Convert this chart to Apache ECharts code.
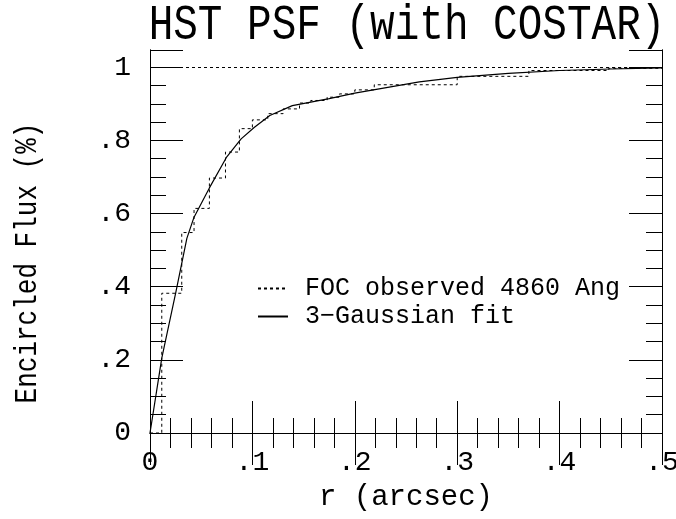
<!DOCTYPE html>
<html lang="en">
<head>
    <meta charset="UTF-8">
    <title>HST PSF (with COSTAR)</title>
    <script src="https://cdn.jsdelivr.net/npm/echarts@6/dist/echarts.min.js"></script>
    <style>
        body { margin: 0; padding: 0; background: #fff; }
        #chart { width: 676px; height: 519px; }
    </style>
</head>
<body>
    <div id="chart"></div>
    <script>
        // observed encircled flux (step function), r in arcsec
        var obsR = [0, 0.0115, 0.031, 0.043, 0.058, 0.0737, 0.0873, 0.1, 0.115, 0.13, 0.146, 0.157, 0.173, 0.185, 0.2, 0.219, 0.3, 0.37, 0.448, 0.5];
        var obsFlux = [0, 0.382, 0.548, 0.614, 0.697, 0.768, 0.832, 0.856, 0.873, 0.886, 0.902, 0.909, 0.918, 0.927, 0.938, 0.952, 0.975, 0.991, 0.997, 0.997];

        // 3-gaussian fit curve
        var fitR = [0, 0.0115, 0.025, 0.036, 0.043, 0.058, 0.075, 0.089, 0.102, 0.117, 0.139, 0.175, 0.2, 0.263, 0.3, 0.35, 0.4, 0.45, 0.5];
        var fitFlux = [0, 0.2045, 0.382, 0.532, 0.59, 0.67, 0.755, 0.804, 0.836, 0.868, 0.895, 0.914, 0.929, 0.960, 0.972, 0.983, 0.991, 0.995, 0.998];

        var xTicks = [0, 0.1, 0.2, 0.3, 0.4, 0.5];
        var xTickLabels = ['0', '.1', '.2', '.3', '.4', '.5'];
        var yTicks = [0, 0.2, 0.4, 0.6, 0.8, 1];
        var yTickLabels = ['0', '.2', '.4', '.6', '.8', '1'];

        var seriesNames = ['FOC observed 4860 Ang', '3\u2212Gaussian fit'];

        var FONT = '"Liberation Mono", monospace';
        var YMAX = 1.047;

        function lookup(ticks, labels) {
            return function (v) {
                for (var i = 0; i < ticks.length; i++) {
                    if (Math.abs(ticks[i] - v) < 1e-6) return labels[i];
                }
                return '';
            };
        }

        function zip(a, b) {
            return a.map(function (v, i) { return [v, b[i]]; });
        }

        var line = { color: '#000', width: 1 };

        function xAx(pos, labels) {
            return {
                type: 'value', min: 0, max: 0.5, interval: 0.1, position: pos,
                axisLine: { show: true, lineStyle: line },
                axisTick: { show: true, inside: true, length: 32, lineStyle: line },
                minorTick: { show: true, splitNumber: 5, length: 15, lineStyle: line },
                splitLine: { show: false },
                axisLabel: {
                    show: labels, margin: 16, color: '#000', fontFamily: FONT, fontSize: 28,
                    formatter: lookup(xTicks, xTickLabels)
                },
                name: labels ? 'r (arcsec)' : '',
                nameLocation: 'middle', nameGap: 50,
                nameTextStyle: { color: '#000', fontFamily: FONT, fontSize: 29 }
            };
        }

        function yAx(pos, step, len, labels) {
            return {
                type: 'value', min: 0, max: YMAX, interval: step, position: pos,
                axisLine: { show: true, lineStyle: line },
                axisTick: { show: true, inside: true, length: len, lineStyle: line },
                splitLine: { show: false },
                axisLabel: {
                    show: labels, margin: 19, color: '#000', fontFamily: FONT, fontSize: 28,
                    formatter: lookup(yTicks, yTickLabels)
                }
            };
        }

        var chart = echarts.init(document.getElementById('chart'));

        chart.setOption({
            animation: false,
            backgroundColor: '#fff',
            grid: { left: 150, right: 14, top: 50, bottom: 86, outerBoundsMode: 'none', containLabel: false },
            graphic: [
                {
                    type: 'text', x: 407, y: 26, scaleY: 1.2,
                    style: {
                        text: 'HST PSF (with COSTAR)', fill: '#000',
                        font: '41px ' + FONT, textAlign: 'center', textVerticalAlign: 'middle'
                    }
                },
                {
                    type: 'text', x: 28, y: 263, rotation: Math.PI / 2, scaleY: 1.2,
                    style: {
                        text: 'Encircled Flux (%)', fill: '#000',
                        font: '26px ' + FONT, textAlign: 'center', textVerticalAlign: 'middle'
                    }
                }
            ],
            legend: {
                data: seriesNames,
                orient: 'vertical',
                left: 252, top: 271,
                itemWidth: 30, itemHeight: 14, itemGap: 3,
                itemStyle: { opacity: 0 },
                textStyle: { color: '#000', fontFamily: FONT, fontSize: 25, padding: [0, 0, 0, 12] }
            },
            xAxis: [xAx('bottom', true), xAx('top', false)],
            yAxis: [
                yAx('left', 0.2, 33, true),
                yAx('left', 0.05, 16, false),
                yAx('right', 0.2, 33, false),
                yAx('right', 0.05, 16, false)
            ],
            series: [
                {
                    name: seriesNames[0], type: 'line', step: 'end',
                    data: zip(obsR, obsFlux),
                    symbol: 'none',
                    lineStyle: { color: '#000', width: 1, type: [3, 3] },
                    itemStyle: { color: '#000' },
                    markLine: {
                        silent: true, symbol: 'none', label: { show: false },
                        lineStyle: { color: '#000', width: 1, type: [3, 3] },
                        data: [{ yAxis: 1 }]
                    }
                },
                {
                    name: seriesNames[1], type: 'line',
                    data: zip(fitR, fitFlux),
                    symbol: 'none',
                    lineStyle: { color: '#000', width: 1.2, type: 'solid' },
                    itemStyle: { color: '#000' }
                }
            ]
        });
    </script>
</body>
</html>
